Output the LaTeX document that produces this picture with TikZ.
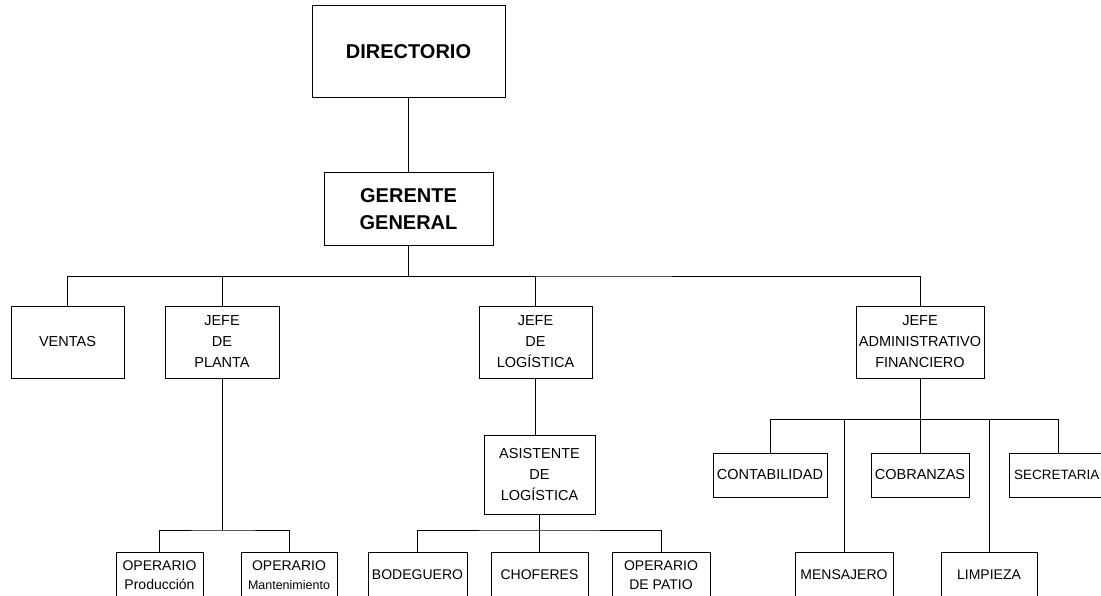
\documentclass[tikz,border=0pt]{standalone}
\usepackage{fontspec}
\setmainfont{Liberation Sans}
\usetikzlibrary{positioning}

\begin{document}
\begin{tikzpicture}[
  x=1pt, y=-1pt,
  line width=1pt,
  top/.style={rectangle, draw, align=center, inner sep=0pt, font=\fontsize{20}{27}\selectfont\bfseries},
  unit/.style={rectangle, draw, align=center, inner sep=0pt, minimum height=72pt, font=\fontsize{14.5}{21}\selectfont},
  small/.style={rectangle, draw, align=center, inner sep=0pt, minimum height=44pt, font=\fontsize{14.5}{21}\selectfont},
  low/.style={rectangle, draw, align=center, inner sep=0pt, minimum height=46pt, font=\fontsize{14}{19}\selectfont}
]
\useasboundingbox (0,0) rectangle (1101,596);
% direction
\node[top, minimum width=193pt, minimum height=92pt] (dir) at (408.5,52) {DIRECTORIO};
\node[top, minimum width=169pt, minimum height=73pt] (gg) at (408.5,209.5) {GERENTE\\GENERAL};
\draw (dir) -- (gg);
% first level
\node[unit, minimum width=113pt] (ventas) at (67.5,342) {VENTAS};
\node[unit, minimum width=114pt] (planta) at (222,342) {JEFE\\DE\\PLANTA};
\node[unit, minimum width=113pt] (logis) at (535.5,342) {JEFE\\DE\\LOGÍSTICA};
\node[unit, minimum width=128pt] (admin) at (920,342) {JEFE\\ADMINISTRATIVO\\FINANCIERO};
\coordinate (b1) at (408.5,277);
\draw (gg) -- (b1);
\draw (ventas.north) |- (b1) -| (admin.north);
\draw (b1) -| (planta.north);
\draw (b1) -| (logis.north);
% planta
\node[low, minimum width=87pt] (opprod) at (159.5,575) {OPERARIO\\Producción};
\node[low, minimum width=96pt] (opmant) at (289,575) {OPERARIO\\{\fontsize{12.5}{19}\selectfont Mantenimiento}};
\coordinate (b2) at (222,530);
\draw (planta) -- (b2);
\draw (opprod.north) |- (b2) -| (opmant.north);
% logistica
\node[unit, minimum width=111pt, minimum height=79pt] (asist) at (539.5,474.5) {ASISTENTE\\DE\\LOGÍSTICA};
\draw (logis.south) -- (logis.south |- asist.north);
\node[low, minimum width=99pt] (bodeg) at (417.5,575) {BODEGUERO};
\node[low, minimum width=97pt] (chof) at (539.5,575) {CHOFERES};
\node[low, minimum width=98pt] (patio) at (661,575) {OPERARIO\\DE PATIO};
\coordinate (b3) at (539.5,530);
\draw (asist) -- (b3);
\draw (bodeg.north) |- (b3) -| (patio.north);
\draw (b3) -- (chof.north);
% administracion
\node[small, minimum width=114pt] (contab) at (770,475) {CONTABILIDAD};
\node[small, minimum width=98pt] (cobr) at (920,475) {COBRANZAS};
\node[small, minimum width=98pt, text width=88pt, align=left, font=\fontsize{13.5}{21}\selectfont] (secre) at (1058,475) {SECRETARIA};
\node[low, minimum width=98pt] (mens) at (844,575) {MENSAJERO};
\node[low, minimum width=96pt] (limp) at (989,575) {LIMPIEZA};
\coordinate (b4) at (920,419);
\draw (admin) -- (b4);
\draw (contab.north) |- (b4) -| (secre.north);
\draw (b4) -- (cobr.north);
\draw (mens.north) |- (b4);
\draw (limp.north) |- (b4);
\end{tikzpicture}
\end{document}
